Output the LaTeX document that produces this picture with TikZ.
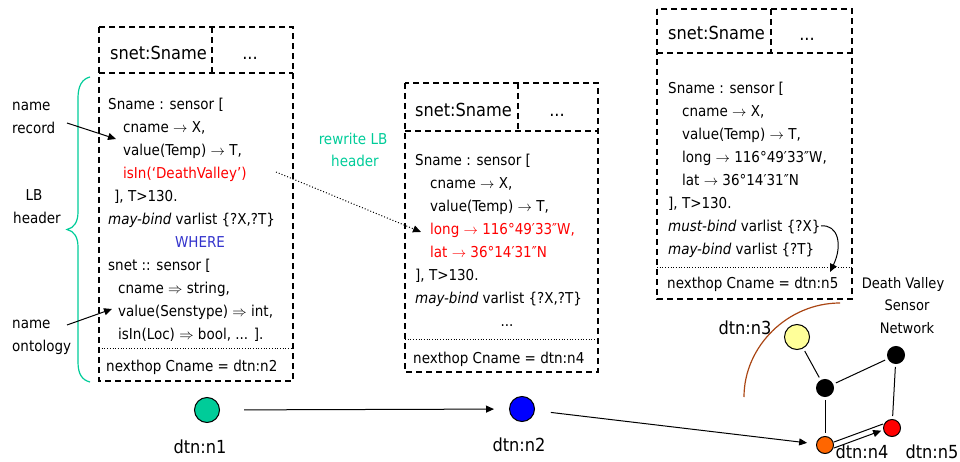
\documentclass[tikz,border=0pt]{standalone}
\usepackage{fontspec}
\setmainfont{DejaVu Sans Condensed}
\usetikzlibrary{arrows.meta}
\definecolor{lbteal}{RGB}{0,204,153}
\definecolor{wherecol}{RGB}{51,51,204}
\definecolor{arccol}{RGB}{170,70,20}
\definecolor{n3col}{RGB}{255,255,153}
\definecolor{n4col}{RGB}{255,102,0}
\newcommand{\bodyfont}{\fontsize{15}{18}\selectfont}
\newcommand{\bigfont}{\fontsize{18}{22}\selectfont}
\newcommand{\smallfont}{\fontsize{14.5}{17}\selectfont}
\newcommand{\recbox}[7]{
	\draw[frame] (#1,#2) rectangle (#3,#4);
	\draw[frame] (#1,#5) -- (#3,#5);
	\draw[frame] (#6,#2) -- (#6,#5);
	\draw[sep] (#1,#7) -- (#3,#7);
}

\begin{document}
\begin{tikzpicture}[x=1pt,y=-1pt,
	frame/.style={dash pattern=on 6pt off 4pt, line width=1.2pt},
	sep/.style={dotted, line width=0.7pt},
	txt/.style={anchor=base west, inner sep=0pt, font=\bodyfont},
	mid/.style={anchor=base, inner sep=0pt, font=\bodyfont},
	head/.style={anchor=base west, inner sep=0pt, font=\bigfont},
	big/.style={anchor=base, inner sep=0pt, font=\bigfont},
	dot/.style={circle, draw, line width=1pt, inner sep=0pt, minimum size=#1},
	link/.style={line width=1pt, shorten >=3pt, shorten <=3pt},
	arr/.style={-{Triangle[length=8pt,width=7pt]}, line width=1pt}]
	\useasboundingbox (0,0) rectangle (960,462);

	% record boxes
	\recbox{99}{27}{293}{381}{73}{212}{348}
	\recbox{405}{83}{598}{372}{131}{518}{339}
	\recbox{657}{9}{852}{299}{53}{771}{267}

	% box at dtn:n1
	\node[head] (ha) at (110,59.5) {snet:Sname};
	\node[big] (hadots) at (250,59.5) {...};
	\node[txt] (a1) at (108,109.5) {Sname : sensor [};
	\node[txt] (a2) at (123,132.5) {cname $\rightarrow$ X,};
	\node[txt] (a3) at (123,155.5) {value(Temp) $\rightarrow$ T,};
	\node[txt, text=red] (a4) at (123,178.5) {isIn(`DeathValley')};
	\node[txt] (a5) at (114,201.5) {], T>130.};
	\node[txt] (a6) at (108,224.5) {\textit{may-bind} varlist \{?X,?T\}};
	\node[mid, text=wherecol] (where) at (200,247.5) {WHERE};
	\node[txt] (a7) at (108,270.5) {snet :: sensor [};
	\node[txt] (a8) at (118,293.5) {cname $\Rightarrow$ string,};
	\node[txt] (a9) at (118,316.5) {value(Senstype) $\Rightarrow$ int,};
	\node[txt] (a10) at (118,339.5) {isIn(Loc) $\Rightarrow$ bool, ... ].};
	\node[txt] (anext) at (106,371.5) {nexthop Cname = dtn:n2};

	% box at dtn:n2
	\node[head] (hb) at (415,116.5) {snet:Sname};
	\node[big] (hbdots) at (557,116.5) {...};
	\node[txt] (b1) at (415,165.5) {Sname : sensor [};
	\node[txt] (b2) at (430,188.5) {cname $\rightarrow$ X,};
	\node[txt] (b3) at (430,211.5) {value(Temp) $\rightarrow$ T,};
	\node[txt, text=red] (b4) at (430,234.5) {long $\rightarrow$ 116°49′33″W,};
	\node[txt, text=red] (b5) at (430,257.5) {lat $\rightarrow$ 36°14′31″N};
	\node[txt] (b6) at (415,280.5) {], T>130.};
	\node[txt] (b7) at (415,303.5) {\textit{may-bind} varlist \{?X,?T\}};
	\node[mid] (bdots) at (507,326) {...};
	\node[txt] (bnext) at (413,363.5) {nexthop Cname = dtn:n4};

	% box at dtn:n4
	\node[head] (hc) at (668,39.5) {snet:Sname};
	\node[big] (hcdots) at (807,41) {...};
	\node[txt] (c1) at (668,93.5) {Sname : sensor [};
	\node[txt] (c2) at (682,116.5) {cname $\rightarrow$ X,};
	\node[txt] (c3) at (682,139.5) {value(Temp) $\rightarrow$ T,};
	\node[txt] (c4) at (682,162.5) {long $\rightarrow$ 116°49′33″W,};
	\node[txt] (c5) at (682,185.5) {lat $\rightarrow$ 36°14′31″N};
	\node[txt] (c6) at (668,208.5) {], T>130.};
	\node[txt] (c7) at (668,231.5) {\textit{must-bind} varlist \{?X\}};
	\node[txt] (c8) at (668,254.5) {\textit{may-bind} varlist \{?T\}};
	\node[txt] (cnext) at (667,288.5) {nexthop Cname = dtn:n5};

	% side labels
	\node[txt] (nm1) at (12,111) {name};
	\node[txt] (rec) at (12,134) {record};
	\node[mid] (lb) at (34,201) {LB};
	\node[mid] (lbh) at (37,224) {header};
	\node[txt] (nm2) at (12,328) {name};
	\node[txt] (onto) at (12,351) {ontology};
	\node[mid, text=lbteal] (rw1) at (353,145) {rewrite LB};
	\node[mid, text=lbteal] (rw2) at (355,167) {header};
	\node[mid, font=\smallfont] (dv1) at (903,288) {Death Valley};
	\node[mid, font=\smallfont] (dv2) at (907,310) {Sensor};
	\node[mid, font=\smallfont] (dv3) at (907,333) {Network};

	\coordinate (recfrom) at (67,123);
	\coordinate (recto) at (116,139);
	\coordinate (ontfrom) at (67,325);
	\coordinate (ontto) at (112,309);
	\coordinate (rwfrom) at (276,172);
	\coordinate (rwto) at (421,232);
	\coordinate (mbfrom) at (821,226);
	\coordinate (mbto) at (830,272);

	\draw[lbteal, line width=1.2pt] (90,77) .. controls (82,79) and (78,86) .. (78,98) -- (78,212)
		.. controls (78,222) and (74,228) .. (67,229.5) .. controls (74,231) and (78,237) .. (78,247)
		-- (78,362) .. controls (78,374) and (82,380) .. (90,382);
	\draw[arr] (recfrom) -- (recto);
	\draw[arr] (ontfrom) -- (ontto);
	\draw[arr, dotted] (rwfrom) -- (rwto);
	\draw[arr] (mbfrom) .. controls (838,224) and (843,245) .. (mbto);

	% network
	\node[dot=25pt, fill=lbteal] (n1) at (207,410) {};
	\node[dot=25pt, fill=blue] (n2) at (522,409) {};
	\node[dot=25pt, fill=n3col] (n3) at (797,337) {};
	\node[dot=17pt, fill=black] (m) at (825,388) {};
	\node[dot=17pt, fill=black] (t) at (896,355) {};
	\node[dot=17pt, fill=n4col] (n4) at (825,445) {};
	\node[dot=17pt, fill=red] (n5) at (892,428) {};
	\node[big] (l1) at (200,453.5) {dtn:n1};
	\node[big] (l2) at (519,451.5) {dtn:n2};
	\node[big] (l3) at (745,334.5) {dtn:n3};
	\node[big] (l4) at (862,458.5) {dtn:n4};
	\node[big] (l5) at (932,458) {dtn:n5};

	\draw[arccol, line width=1.2pt] (840,303) .. controls (788,303) and (744,346) .. (744,397);
	\draw[link] (n3) -- (m);
	\draw[link] (m) -- (t);
	\draw[link] (m) -- (n4);
	\draw[link] (t) -- (n5);
	\draw[arr, shorten >=2pt] ([yshift=-3pt]n4.east) -- ([yshift=-2pt]n5.west);
	\draw[line width=1pt] ([yshift=3pt]n4.east) -- ([yshift=4pt]n5.west);
	\draw[arr, shorten <=24pt, shorten >=15pt] (n1) -- (n2);
	\draw[arr, shorten <=16pt, shorten >=9pt] (n2) -- (n4);
\end{tikzpicture}
\end{document}
